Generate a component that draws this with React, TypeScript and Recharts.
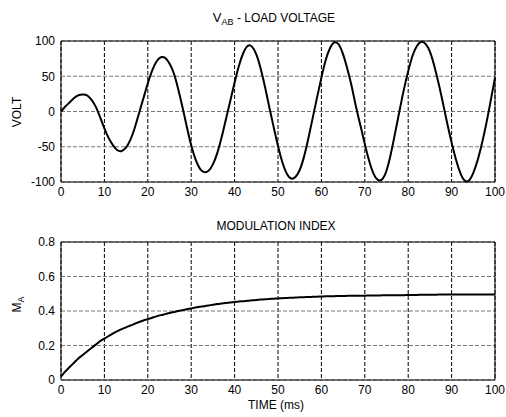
import React from "react";
import { LineChart, Line, XAxis, YAxis, CartesianGrid, ReferenceArea } from "recharts";

// time axis in ms, one sample per ms
const timeMs = [
  0, 1, 2, 3, 4, 5, 6, 7, 8, 9, 10, 11, 12, 13, 14, 15, 16, 17, 18, 19, 20,
  21, 22, 23, 24, 25, 26, 27, 28, 29, 30, 31, 32, 33, 34, 35, 36, 37, 38, 39, 40,
  41, 42, 43, 44, 45, 46, 47, 48, 49, 50, 51, 52, 53, 54, 55, 56, 57, 58, 59, 60,
  61, 62, 63, 64, 65, 66, 67, 68, 69, 70, 71, 72, 73, 74, 75, 76, 77, 78, 79, 80,
  81, 82, 83, 84, 85, 86, 87, 88, 89, 90, 91, 92, 93, 94, 95, 96, 97, 98, 99, 100,
];

// V_AB load voltage (V)
const loadVoltage = [
  0, 7, 13, 19, 23, 24, 23, 17, 7, -8, -24,
  -38, -48, -55, -56, -51, -40, -23, -2, 19, 40,
  58, 71, 77, 76, 68, 54, 32, 6, -22, -48,
  -68, -81, -86, -84, -75, -59, -37, -11, 15, 41,
  65, 83, 93, 92, 81, 61, 35, 6, -22, -49,
  -72, -88, -95, -93, -83, -64, -38, -9, 20, 48,
  73, 90, 98, 95, 81, 60, 35, 6, -20, -46,
  -70, -88, -97, -96, -84, -60, -30, 1, 31, 57,
  79, 93, 99, 96, 85, 65, 40, 12, -17, -44,
  -68, -87, -98, -98, -87, -69, -45, -17, 15, 48,
];

// modulation index M_A
const modIndex = [
  0.02, 0.05, 0.075, 0.1, 0.125, 0.145, 0.165, 0.185, 0.205, 0.225, 0.24,
  0.255, 0.27, 0.283, 0.295, 0.305, 0.316, 0.326, 0.336, 0.345, 0.353,
  0.361, 0.369, 0.376, 0.382, 0.388, 0.394, 0.4, 0.405, 0.41, 0.415,
  0.42, 0.424, 0.428, 0.432, 0.436, 0.44, 0.443, 0.446, 0.449, 0.452,
  0.455, 0.457, 0.46, 0.462, 0.464, 0.466, 0.468, 0.47, 0.471, 0.473,
  0.474, 0.476, 0.477, 0.478, 0.479, 0.48, 0.481, 0.482, 0.483, 0.484,
  0.485, 0.485, 0.486, 0.487, 0.487, 0.488, 0.488, 0.489, 0.489, 0.489,
  0.49, 0.49, 0.49, 0.491, 0.491, 0.491, 0.492, 0.492, 0.492, 0.493,
  0.493, 0.493, 0.494, 0.494, 0.494, 0.494, 0.495, 0.495, 0.495, 0.495,
  0.495, 0.495, 0.496, 0.496, 0.496, 0.496, 0.496, 0.496, 0.496, 0.496,
];

const xTicks = [0, 10, 20, 30, 40, 50, 60, 70, 80, 90, 100];
const voltTicks = [-100, -50, 0, 50, 100];
const maTicks = [0, 0.2, 0.4, 0.6, 0.8];

const voltData = timeMs.map((t, i) => ({ t, v: loadVoltage[i] }));
const maData = timeMs.map((t, i) => ({ t, m: modIndex[i] }));

const FONT = "'Liberation Sans', Arial, Helvetica, sans-serif";
const tickStyle = { fontSize: 12, fill: "#000", fontFamily: FONT };

const textBox = (left: number, top: number): React.CSSProperties => ({
  position: "absolute",
  left,
  top,
  width: 200,
  textAlign: "center",
  fontFamily: FONT,
  fontSize: 12,
  lineHeight: "14px",
  color: "#000",
  whiteSpace: "nowrap",
});

const vLabel = (cx: number, cy: number): React.CSSProperties => ({
  ...textBox(cx - 100, cy - 7),
  transform: "rotate(-90deg)",
  transformOrigin: "50% 50%",
});

const sub: React.CSSProperties = { fontSize: 9, position: "relative", top: 3 };

export default function App() {
  return (
    <div style={{ position: "absolute", left: 0, top: 0, width: 506, height: 417, background: "#fff" }}>
      <div style={textBox(174, 11)}>
        <span style={{ fontSize: 13 }}>V</span><span style={sub}>AB</span> - LOAD VOLTAGE
      </div>
      <div style={vLabel(17, 111.5)}>VOLT</div>

      <div style={{ position: "absolute", left: 0, top: 0 }}>
        <LineChart width={506} height={200} data={voltData} margin={{ top: 41, right: 11, left: 1, bottom: 0 }}>
          <CartesianGrid horizontal={false} stroke="#000" strokeDasharray="4 2" />
          <CartesianGrid vertical={false} stroke="#777" strokeDasharray="4 2" />
          <XAxis
            dataKey="t"
            type="number"
            domain={[0, 100]}
            ticks={xTicks}
            height={18}
            tickLine={false}
            axisLine={false}
            tickSize={0}
            tickMargin={5}
            tick={tickStyle}
          />
          <YAxis
            type="number"
            domain={[-100, 100]}
            ticks={voltTicks}
            width={60}
            tickLine={false}
            axisLine={false}
            tickSize={0}
            tickMargin={6}
            tick={tickStyle}
          />
          <ReferenceArea x1={0} x2={100} y1={-100} y2={100} fill="none" stroke="#000" strokeWidth={1} />
          <Line
            type="natural"
            dataKey="v"
            stroke="#000"
            strokeWidth={2}
            dot={false}
            isAnimationActive={false}
          />
        </LineChart>
      </div>

      <div style={textBox(176, 219)}>MODULATION INDEX</div>
      <div style={vLabel(17, 304)}>
        M<span style={sub}>A</span>
      </div>

      <div style={{ position: "absolute", left: 0, top: 200 }}>
        <LineChart width={506} height={217} data={maData} margin={{ top: 42, right: 11, left: 1, bottom: 0 }}>
          <CartesianGrid horizontal={false} stroke="#000" strokeDasharray="4 2" />
          <CartesianGrid vertical={false} stroke="#777" strokeDasharray="4 2" />
          <XAxis
            dataKey="t"
            type="number"
            domain={[0, 100]}
            ticks={xTicks}
            height={37}
            tickLine={false}
            axisLine={false}
            tickSize={0}
            tickMargin={5}
            tick={tickStyle}
          />
          <YAxis
            type="number"
            domain={[0, 0.8]}
            ticks={maTicks}
            width={60}
            tickLine={false}
            axisLine={false}
            tickSize={0}
            tickMargin={6}
            tick={tickStyle}
          />
          <ReferenceArea x1={0} x2={100} y1={0} y2={0.8} fill="none" stroke="#000" strokeWidth={1} />
          <Line
            type="monotone"
            dataKey="m"
            stroke="#000"
            strokeWidth={2}
            dot={false}
            isAnimationActive={false}
          />
        </LineChart>
      </div>

      <div style={textBox(176, 398)}>TIME (ms)</div>
    </div>
  );
}
